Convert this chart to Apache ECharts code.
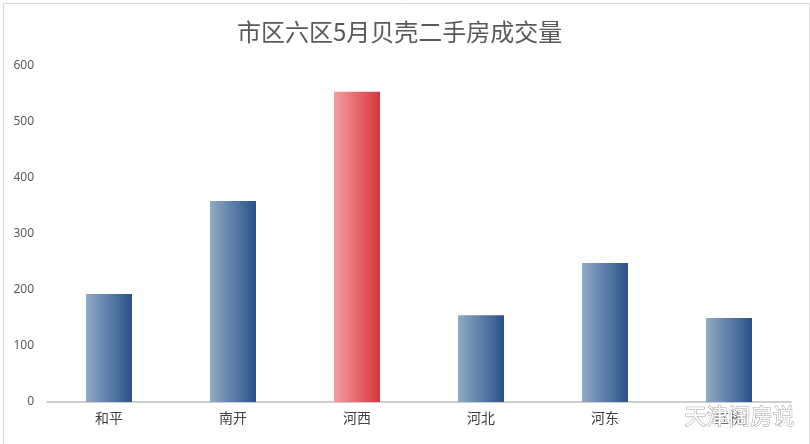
<!DOCTYPE html>
<html><head><meta charset="utf-8">
<script src="https://cdn.jsdelivr.net/npm/echarts@6/dist/echarts.min.js"></script>
<style>html,body{margin:0;padding:0;background:#fff}#c{width:810px;height:444px}</style>
</head><body><div id="c"></div>
<script>
const title = '市区六区5月贝壳二手房成交量';
const categories = ['和平','南开','河西','河北','河东','红桥'];
const values = [193, 359, 554, 155, 248, 150];
const highlightIndex = 2;
const yTicks = [0,100,200,300,400,500,600];
const watermark = '天津阔房说';

const blue = new echarts.graphic.LinearGradient(0,0,1,0,[{offset:0,color:'#91abc6'},{offset:1,color:'#28518a'}]);
const red = new echarts.graphic.LinearGradient(0,0,1,0,[{offset:0,color:'#f29ea3'},{offset:1,color:'#d8353d'}]);

const chart = echarts.init(document.getElementById('c'));
chart.setOption({
  animation:false,
  backgroundColor:'#fff',
  title:{text:title,left:232,top:15,textStyle:{fontFamily:'Noto Sans CJK SC',fontSize:24,fontWeight:'normal',color:'#595959'}},
  grid:{left:47,right:19,top:66,bottom:42},
  xAxis:{type:'category',data:categories,
    axisLine:{lineStyle:{color:'#bfbfbf',width:1.5}},axisTick:{show:false},
    axisLabel:{fontFamily:'Noto Sans CJK SC',fontSize:14,color:'#404040',margin:9}},
  yAxis:{type:'value',min:yTicks[0],max:yTicks[yTicks.length-1],interval:100,
    axisLine:{show:false},axisTick:{show:false},splitLine:{show:false},
    axisLabel:{fontFamily:'Noto Sans',fontSize:12,color:'#595959',margin:13}},
  series:[{type:'bar',barWidth:46,
    data:values.map((v,i)=>({value:v,itemStyle:{color:i===highlightIndex?red:blue}}))}],
  graphic:[
    {type:'rect',left:1,top:1,shape:{width:806,height:441},style:{fill:'none',stroke:'#d9d9d9',lineWidth:1},silent:true},
    {type:'text',left:684,top:404,style:{text:watermark,fontFamily:'Noto Sans CJK SC',fontSize:22,fill:'#ffffff',stroke:'#a0a0a0',lineWidth:1},z:100}
  ]
});
</script></body></html>
